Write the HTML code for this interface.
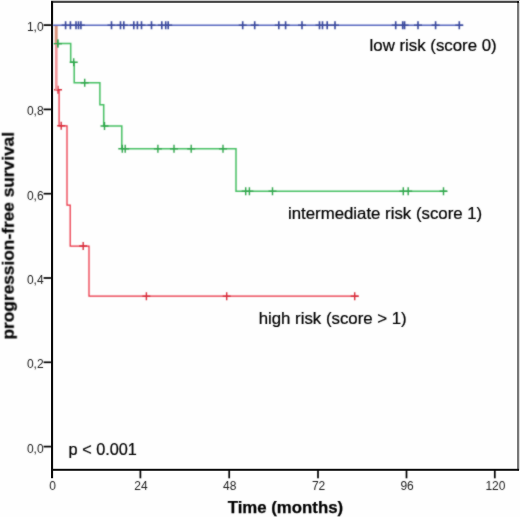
<!DOCTYPE html>
<html><head><meta charset="utf-8"><title>Kaplan-Meier</title>
<style>
html,body{margin:0;padding:0;background:#fff;}
body{width:520px;height:517px;overflow:hidden;font-family:"Liberation Sans",sans-serif;}
svg{display:block;}
text{font-family:"Liberation Sans",sans-serif;fill:#111;}
.tk{font-size:12px;fill:#1c1c1c;}
.lb{font-size:16px;fill:#000;stroke:#000;stroke-width:0.22px;}
.ax{font-size:16.3px;font-weight:bold;fill:#000;stroke:#000;stroke-width:0.25px;}
</style></head><body>
<svg width="520" height="517" viewBox="0 0 520 517">
<defs><filter id="soft" x="0" y="0" width="520" height="517" filterUnits="userSpaceOnUse" color-interpolation-filters="sRGB"><feConvolveMatrix order="3" kernelMatrix="1 2 1 2 14 2 1 2 1" divisor="26" edgeMode="duplicate" preserveAlpha="false"/></filter><filter id="soft2" x="0" y="0" width="520" height="517" filterUnits="userSpaceOnUse" color-interpolation-filters="sRGB"><feConvolveMatrix order="3" kernelMatrix="1 2 1 2 20 2 1 2 1" divisor="32" edgeMode="duplicate" preserveAlpha="false"/><feColorMatrix type="saturate" values="0"/></filter></defs>
<rect x="0" y="0" width="520" height="517" fill="#fefefe"/>

<rect x="51" y="0" width="469" height="1" fill="#c8c8c8"/>
<rect x="51" y="1" width="468" height="1.9" fill="#444"/>
<rect x="517" y="2" width="2.1" height="468.5" fill="#777"/>
<rect x="519.1" y="2" width="0.9" height="468" fill="#d8d8d8"/>
<rect x="517" y="1" width="2" height="2" fill="#151515"/>
<rect x="51" y="1.2" width="2.1" height="477" fill="#0a0a0a"/>
<rect x="51" y="468.8" width="468" height="2" fill="#0a0a0a"/>
<g filter="url(#soft2)">
<rect x="43.6" y="24.25" width="8" height="1.7" fill="#000"/>
<text class="tk" x="43.6" y="31.1" text-anchor="end">1,0</text>
<rect x="43.6" y="108.55000000000001" width="8" height="1.7" fill="#000"/>
<text class="tk" x="43.6" y="115.4" text-anchor="end">0,8</text>
<rect x="43.6" y="192.85" width="8" height="1.7" fill="#000"/>
<text class="tk" x="43.6" y="199.7" text-anchor="end">0,6</text>
<rect x="43.6" y="277.15" width="8" height="1.7" fill="#000"/>
<text class="tk" x="43.6" y="284.0" text-anchor="end">0,4</text>
<rect x="43.6" y="361.45" width="8" height="1.7" fill="#000"/>
<text class="tk" x="43.6" y="368.3" text-anchor="end">0,2</text>
<rect x="43.6" y="445.75" width="8" height="1.7" fill="#000"/>
<text class="tk" x="43.6" y="452.6" text-anchor="end">0,0</text>
<text class="tk" x="52.7" y="490.2" text-anchor="middle">0</text>
<rect x="139.55" y="470" width="1.7" height="8.3" fill="#000"/>
<text class="tk" x="141.0" y="490.2" text-anchor="middle">24</text>
<rect x="228.35" y="470" width="1.7" height="8.3" fill="#000"/>
<text class="tk" x="229.79999999999998" y="490.2" text-anchor="middle">48</text>
<rect x="317.15" y="470" width="1.7" height="8.3" fill="#000"/>
<text class="tk" x="318.59999999999997" y="490.2" text-anchor="middle">72</text>
<rect x="405.65" y="470" width="1.7" height="8.3" fill="#000"/>
<text class="tk" x="407.09999999999997" y="490.2" text-anchor="middle">96</text>
<rect x="493.95" y="470" width="1.7" height="8.3" fill="#000"/>
<text class="tk" x="495.4" y="490.2" text-anchor="middle">120</text>
</g>
<g filter="url(#soft)">
<path d="M56.5,43.6 H70.7 V62.3 H74.2 V82.7 H99.9 V104.7 H103.7 V126 H121.8 V148.8 H236 V191.3 H447" stroke="#45bf62" stroke-width="1.5" fill="none"/>
<path d="M57.8,39.6V47.6M53.8,43.6H61.8M73.7,58.3V66.3M69.7,62.3H77.7M84.7,78.7V86.7M80.7,82.7H88.7M104.5,122.0V130.0M100.5,126H108.5M122.3,144.8V152.8M118.3,148.8H126.3M125.2,144.8V152.8M121.2,148.8H129.2M157.9,144.8V152.8M153.9,148.8H161.9M174,144.8V152.8M170.0,148.8H178.0M191.2,144.8V152.8M187.2,148.8H195.2M223,144.8V152.8M219.0,148.8H227.0M245.7,187.3V195.3M241.7,191.3H249.7M249.4,187.3V195.3M245.4,191.3H253.4M272.5,187.3V195.3M268.5,191.3H276.5M403.3,187.3V195.3M399.3,191.3H407.3M408.2,187.3V195.3M404.2,191.3H412.2M443.5,187.3V195.3M439.5,191.3H447.5" stroke="#2ea64a" stroke-width="1.4" fill="none"/>
<path d="M56.3,89.8 H59.1 V125.8 H67 V205.1 H70.2 V246 H89 V296.2 H358.5" stroke="#ea2f40" stroke-width="1.25" fill="none"/>
<path d="M58,85.8V93.8M54.0,89.8H62.0M61.2,121.8V129.8M57.2,125.8H65.2M83.2,242.0V250.0M79.2,246H87.2M146.4,292.2V300.2M142.4,296.2H150.4M226.7,292.2V300.2M222.7,296.2H230.7M354.7,292.2V300.2M350.7,296.2H358.7" stroke="#d82c3a" stroke-width="1.4" fill="none"/>
<path d="M56.2,25.5 V44" stroke="#d9957f" stroke-width="3" fill="none"/>
<path d="M56.3,44 V89.8" stroke="#f39a9e" stroke-width="2.7" fill="none"/>
<path d="M57.8,39.6V47.6M53.8,43.6H61.8" stroke="#2ea64a" stroke-width="1.4" fill="none"/>
<path d="M53,25.2 H463" stroke="#5767bf" stroke-width="1.5" fill="none"/>
<path d="M65.6,21.2V29.2M61.599999999999994,25.2H69.6M70.4,21.2V29.2M66.4,25.2H74.4M76,21.2V29.2M72.0,25.2H80.0M78.5,21.2V29.2M74.5,25.2H82.5M80.9,21.2V29.2M76.9,25.2H84.9M111.5,21.2V29.2M107.5,25.2H115.5M120.5,21.2V29.2M116.5,25.2H124.5M123.8,21.2V29.2M119.8,25.2H127.8M133.8,21.2V29.2M129.8,25.2H137.8M137.4,21.2V29.2M133.4,25.2H141.4M141.5,21.2V29.2M137.5,25.2H145.5M151.5,21.2V29.2M147.5,25.2H155.5M161.8,21.2V29.2M157.8,25.2H165.8M165.7,21.2V29.2M161.7,25.2H169.7M168.2,21.2V29.2M164.2,25.2H172.2M242.7,21.2V29.2M238.7,25.2H246.7M254.7,21.2V29.2M250.7,25.2H258.7M278.8,21.2V29.2M274.8,25.2H282.8M285.6,21.2V29.2M281.6,25.2H289.6M302,21.2V29.2M298.0,25.2H306.0M319.5,21.2V29.2M315.5,25.2H323.5M322.5,21.2V29.2M318.5,25.2H326.5M327.2,21.2V29.2M323.2,25.2H331.2M335,21.2V29.2M331.0,25.2H339.0M395.7,21.2V29.2M391.7,25.2H399.7M402.7,21.2V29.2M398.7,25.2H406.7M404.6,21.2V29.2M400.6,25.2H408.6M418,21.2V29.2M414.0,25.2H422.0M435.6,21.2V29.2M431.6,25.2H439.6M459.3,21.2V29.2M455.3,25.2H463.3" stroke="#37469c" stroke-width="1.6" fill="none"/>
</g>
<g filter="url(#soft2)">
<text class="lb" x="369.6" y="51.3" textLength="127" lengthAdjust="spacingAndGlyphs">low risk (score 0)</text>
<text class="lb" x="288" y="218.5" textLength="194.2" lengthAdjust="spacingAndGlyphs">intermediate risk (score 1)</text>
<text class="lb" x="258.7" y="323.9" textLength="148" lengthAdjust="spacingAndGlyphs">high risk (score &gt; 1)</text>
<text class="lb" style="font-size:16px" x="68.6" y="455.4" textLength="68.3" lengthAdjust="spacingAndGlyphs">p &lt; 0.001</text>
<text class="ax" x="227.7" y="513.2" textLength="115.4" lengthAdjust="spacingAndGlyphs">Time (months)</text>
<text class="ax" style="font-size:17.3px" transform="translate(13.7,235.7) rotate(-90)" text-anchor="middle">progression-free survival</text>
</g>
</svg></body></html>
